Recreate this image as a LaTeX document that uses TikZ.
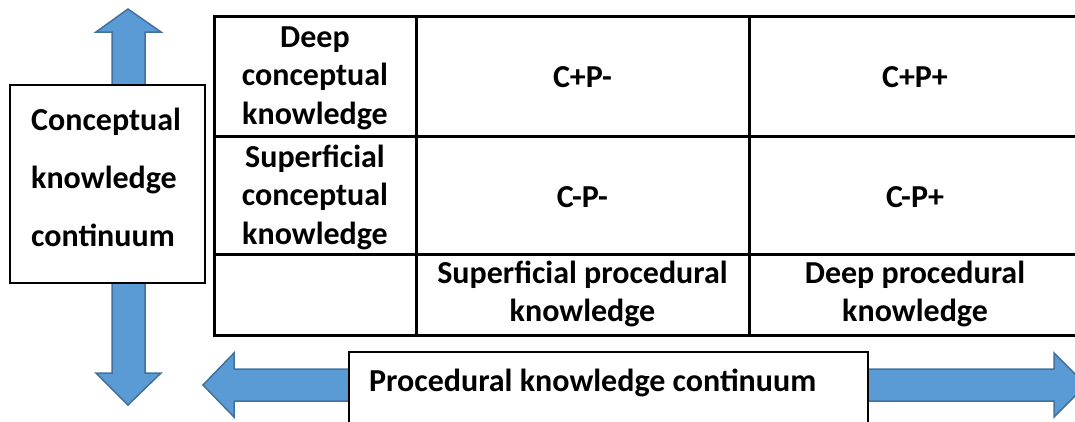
\documentclass[tikz,border=0pt]{standalone}
\usepackage{fontspec}
\setmainfont{Carlito}
\definecolor{arrowfill}{RGB}{91,155,213}
\definecolor{arrowline}{RGB}{65,113,156}
\begin{document}
\begin{tikzpicture}[x=1pt,y=-1pt,
  fatarrow/.style={fill=arrowfill,draw=arrowline,line width=1.5pt,line join=miter},
  labelbox/.style={draw=black,fill=white,line width=1.6pt,inner sep=0pt},
  gridline/.style={line width=3pt,line cap=rect},
  celltext/.style={font=\fontsize{32}{38.5}\selectfont\bfseries,align=center,inner sep=0pt},
  boxtext/.style={font=\fontsize{32}{58}\selectfont\bfseries,align=left,inner sep=0pt}]
\useasboundingbox (0,0) rectangle (1075,421);

% vertical double arrow (conceptual axis)
\draw[fatarrow] (128,9) -- (161,32) -- (145,32) -- (145,373) -- (161,373)
  -- (128,405) -- (96,373) -- (112,373) -- (112,32) -- (96,32) -- cycle;

% horizontal double arrow (procedural axis)
\draw[fatarrow] (203,385) -- (234,353) -- (234,369) -- (1054,369) -- (1054,353)
  -- (1086,385) -- (1054,417) -- (1054,401) -- (234,401) -- (234,417) -- cycle;

% axis label boxes
\node[labelbox,minimum width=195pt,minimum height=198pt] (ck) at (107.5,184) {};
\node[boxtext,anchor=west] (cktext) at (31,177) {Conceptual\\knowledge\\continuum};

\node[labelbox,minimum width=519pt,minimum height=90pt] (pk) at (608.5,397) {};
\node[celltext,anchor=west] (pktext) at (369,383) {Procedural knowledge continuum};

% grid of the 3x3 table
\coordinate (a0) at (214,16);  \coordinate (a3) at (214,335);
\coordinate (b0) at (416,16);  \coordinate (b3) at (416,335);
\coordinate (c0) at (749,16);  \coordinate (c3) at (749,335);
\coordinate (r0) at (1081,16); \coordinate (r1) at (1081,136);
\coordinate (r2) at (1081,254); \coordinate (r3) at (1081,335);
\coordinate (l1) at (214,136); \coordinate (l2) at (214,254);
\draw[gridline] (a0) -- (r0);
\draw[gridline] (l1) -- (r1);
\draw[gridline] (l2) -- (r2);
\draw[gridline] (a3) -- (r3);
\draw[gridline] (a0) -- (a3);
\draw[gridline] (b0) -- (b3);
\draw[gridline] (c0) -- (c3);

% cell contents
\node[celltext] (dc) at (315,78) {Deep\\conceptual\\knowledge};
\node[celltext] (sc) at (315,197) {Superficial\\conceptual\\knowledge};
\node[celltext] (cppm) at (582.5,77) {C+P-};
\node[celltext] (cppp) at (915,77) {C+P+};
\node[celltext] (cmpm) at (582.5,197) {C-P-};
\node[celltext] (cmpp) at (915,197) {C-P+};
\node[celltext] (sp) at (582.5,294) {Superficial procedural\\knowledge};
\node[celltext] (dp) at (915,294) {Deep procedural\\knowledge};
\end{tikzpicture}
\end{document}
